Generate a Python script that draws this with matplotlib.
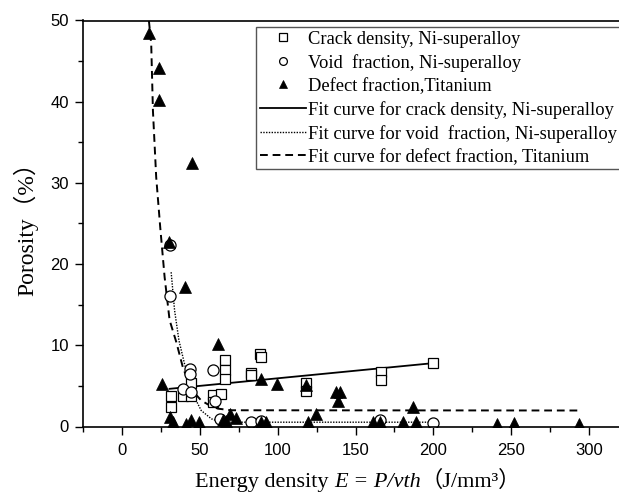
import matplotlib
matplotlib.use("Agg")
import matplotlib.pyplot as plt
from matplotlib.ticker import MultipleLocator

# ---- data ----
crack_x = [31.6, 31.6, 39.1, 44.5, 44.5, 58.4, 58.4, 63.8, 66.3, 66.3, 66.3, 83.0, 83.0, 88.8, 89.3, 118.4, 118.4, 166.1, 166.1, 199.7]
crack_y = [3.7, 2.4, 3.8, 5.3, 3.8, 3.9, 3.0, 4.0, 8.2, 6.9, 5.9, 6.6, 6.3, 8.9, 8.6, 5.3, 4.35, 6.7, 5.75, 7.8]

void_x = [31.0, 31.0, 43.4, 44.0, 58.4, 39.1, 44.5, 59.5, 62.7, 83.0, 89.5, 166.0, 199.7]
void_y = [22.4, 16.1, 7.1, 6.5, 6.9, 4.6, 4.2, 3.2, 0.95, 0.5, 0.7, 0.75, 0.45]

ti_x = [17.3, 24.1, 24.1, 45.1, 30.1, 40.4, 61.6, 25.9, 89.5, 99.7, 118.4, 137.6, 139.8, 138.7,
        124.8, 186.8, 69.1, 73.4, 30.6, 32.7, 41.3, 44.5, 49.8, 64.8, 67.0, 89.5, 92.6, 119.2,
        161.1, 165.4, 180.4, 188.6, 240.8, 251.5, 293.5]
ti_y = [48.4, 44.2, 40.2, 32.4, 22.7, 17.2, 10.2, 5.2, 5.9, 5.2, 5.05, 4.2, 4.2, 3.2,
        1.56, 2.46, 1.5, 1.1, 1.15, 0.5, 0.35, 0.8, 0.55, 0.75, 0.7, 0.5, 0.55, 0.55,
        0.6, 0.6, 0.6, 0.5, 0.3, 0.4, 0.3]

crack_fit_x = [30.6, 199.7]
crack_fit_y = [4.64, 7.8]

void_fit_x = [31.6, 33.8, 36.6, 40.2, 43.0, 46.6, 50.9, 57.4, 62.7, 70.0, 200.0]
void_fit_y = [19.0, 14.3, 10.6, 7.7, 5.7, 3.6, 1.97, 0.95, 0.6, 0.53, 0.53]

ti_fit_x = [17.3, 18.8, 19.9, 22.0, 24.6, 27.4, 30.6, 34.9, 39.1, 44.5, 50.9, 56.3, 61.6, 70.0, 295.0]
ti_fit_y = [50.0, 47.1, 38.9, 30.7, 24.5, 18.4, 13.1, 10.4, 7.3, 4.6, 3.2, 2.6, 2.2, 2.0, 1.97]

labels = ["Crack density, Ni-superalloy",
          "Void  fraction, Ni-superalloy",
          "Defect fraction,Titanium",
          "Fit curve for crack density, Ni-superalloy",
          "Fit curve for void  fraction, Ni-superalloy",
          "Fit curve for defect fraction, Titanium"]

W, H = 619, 492
fig = plt.figure(figsize=(W / 100, H / 100), dpi=100)
ax = fig.add_axes([83 / W, 1 - 426.5 / H, (625 - 83) / W, (426.5 - 20.5) / H])

serif = ["Liberation Serif", "Noto Sans CJK SC"]

h_fit_c, = ax.plot(crack_fit_x, crack_fit_y, color="black", lw=1.3, ls="-")
h_fit_v, = ax.plot(void_fit_x, void_fit_y, color="black", lw=1.0, ls=(0, (1, 1)))
h_fit_t, = ax.plot(ti_fit_x, ti_fit_y, color="black", lw=1.4, ls=(0, (4, 2.5)))

h_c, = ax.plot(crack_x, crack_y, ls="none", marker="s", ms=7.3, mfc="white", mec="black", mew=0.9)
h_v, = ax.plot(void_x, void_y, ls="none", marker="o", ms=8, mfc="white", mec="black", mew=0.9)
h_t, = ax.plot(ti_x, ti_y, ls="none", marker="^", ms=9, mfc="black", mec="black", mew=0.5)

ax.set_xlim(-25, 323)
ax.set_ylim(0, 50)
ax.xaxis.set_major_locator(MultipleLocator(50))
ax.xaxis.set_minor_locator(MultipleLocator(25))
ax.yaxis.set_major_locator(MultipleLocator(10))
ax.yaxis.set_minor_locator(MultipleLocator(5))
ax.tick_params(which="major", direction="out", length=6, width=1.0, labelsize=12)
ax.tick_params(which="minor", direction="out", length=3.5, width=1.0)
ax.tick_params(axis="x", which="major", pad=6)
ax.tick_params(axis="y", which="major", pad=4)
for lab in ax.get_xticklabels() + ax.get_yticklabels():
    lab.set_family("Liberation Sans")
for s in ["left", "bottom", "top"]:
    ax.spines[s].set_linewidth(1.2)
ax.spines["right"].set_visible(False)

ax.set_ylabel("Porosity（%）", family=serif, fontsize=17, labelpad=9)

# x label built from pieces so that the middle part can be italic
t1 = fig.text(195 / W, 1 - 487 / H, "Energy density ", family=serif, fontsize=16, va="baseline", ha="left")
t2 = ax.annotate("E = P/vth", xy=(1, 0), xycoords=t1, va="bottom", ha="left",
                 family="Liberation Serif", style="italic", fontsize=16, annotation_clip=False)
t3 = ax.annotate("（J/mm³）", xy=(1, 0), xycoords=t2, va="bottom", ha="left",
                 family=serif, fontsize=16, annotation_clip=False)

leg = ax.legend([h_c, h_v, h_t, h_fit_c, h_fit_v, h_fit_t], labels,
                loc="upper left", bbox_to_anchor=(256 / W, 1 - 27 / H),
                bbox_transform=fig.transFigure, prop={"family": "Liberation Serif", "size": 13.3},
                frameon=True, fancybox=False, edgecolor="#555555", framealpha=1,
                borderpad=0.2, labelspacing=0.33, handlelength=2.5, handletextpad=0.1,
                borderaxespad=0, markerscale=0.7)
leg.get_frame().set_linewidth(1.0)

fig.savefig("out.png", dpi=100)
